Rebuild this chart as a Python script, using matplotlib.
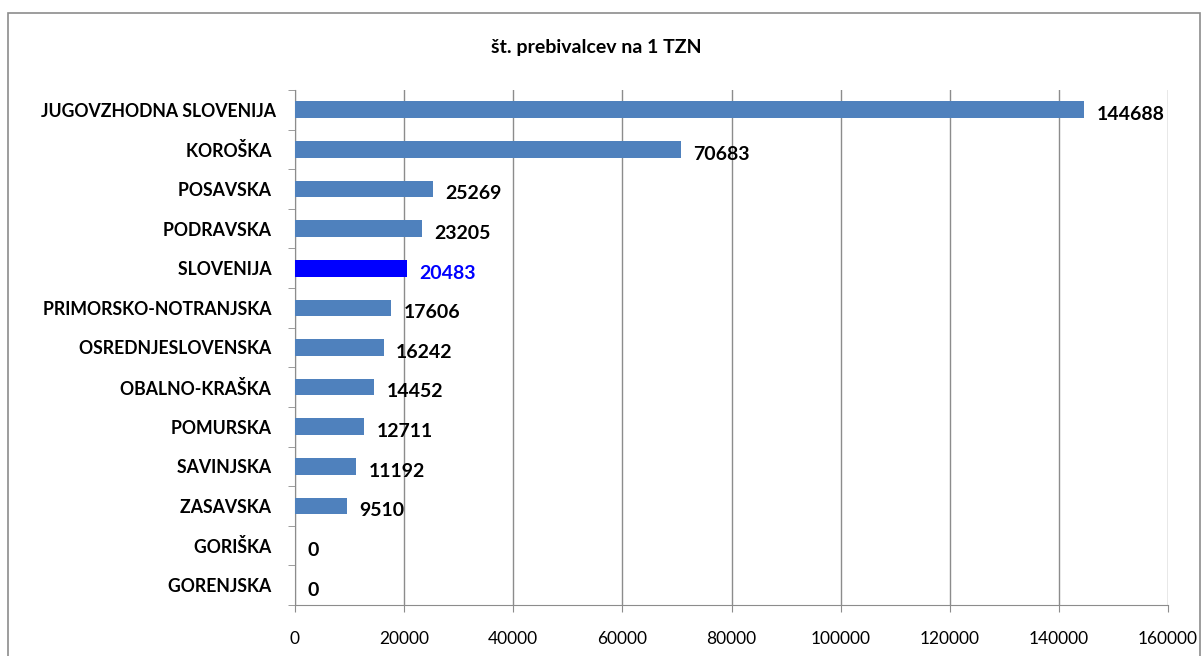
import matplotlib.pyplot as plt
import numpy as np
from matplotlib.patches import Rectangle

plt.rcParams['font.family'] = ['Lato', 'DejaVu Sans']

regions = ['JUGOVZHODNA SLOVENIJA', 'KOROŠKA ', 'POSAVSKA ', 'PODRAVSKA ', 'SLOVENIJA ',
           'PRIMORSKO-NOTRANJSKA ', 'OSREDNJESLOVENSKA ', 'OBALNO-KRAŠKA ', 'POMURSKA ',
           'SAVINJSKA ', 'ZASAVSKA ', 'GORIŠKA ', 'GORENJSKA ']
values = [144688, 70683, 25269, 23205, 20483, 17606, 16242, 14452, 12711, 11192, 9510, 0, 0]
highlight = 'SLOVENIJA '

fig = plt.figure(figsize=(12.03, 6.56), dpi=100)
ax = fig.add_axes([295 / 1203, 1 - 605 / 656, (1168 - 295) / 1203, (605 - 90) / 656])

# figure border like the excel chart frame
fig.patches.append(Rectangle((8 / 1203, -0.01), 1192 / 1203, 1 - 13 / 656 + 0.01,
                             transform=fig.transFigure, fill=False,
                             edgecolor='#8c8c8c', linewidth=1.2))

y = np.arange(len(regions))[::-1]
colors = ['#0000FF' if r == highlight else '#4F81BD' for r in regions]
ax.barh(y, values, height=0.42, color=colors, zorder=3)

for yi, v, r in zip(y, values, regions):
    c = '#0000FF' if r == highlight else 'black'
    ax.annotate(f'{v}', (v, yi), xytext=(9, -3.5), textcoords='offset points',
                va='center', ha='left', fontsize=14, fontweight='bold', color=c)

ax.set_xlim(0, 160000)
ax.set_ylim(-0.5, len(regions) - 0.5)
ax.set_xticks(np.arange(0, 160001, 20000))
ax.set_xticklabels([str(t) for t in range(0, 160001, 20000)], fontsize=12.5)
ax.tick_params(axis='x', length=5, color='#8c8c8c', pad=14)

ax.set_yticks(y)
ax.set_yticklabels(regions, fontsize=12.7, fontweight='bold')
ax.tick_params(axis='y', length=0, pad=14)
ax.set_yticks(np.arange(-0.5, len(regions)), minor=True)
ax.tick_params(axis='y', which='minor', length=5, color='#8c8c8c')

ax.grid(axis='x', color='#8c8c8c', linewidth=1, zorder=0)
for s in ['top', 'right']:
    ax.spines[s].set_visible(False)
for s in ['left', 'bottom']:
    ax.spines[s].set_color('#8c8c8c')

fig.text(596 / 1203, 1 - 47 / 656, 'št. prebivalcev na 1 TZN', ha='center', va='center',
         fontsize=14, fontweight='bold')

fig.savefig('out.png', dpi=100)
